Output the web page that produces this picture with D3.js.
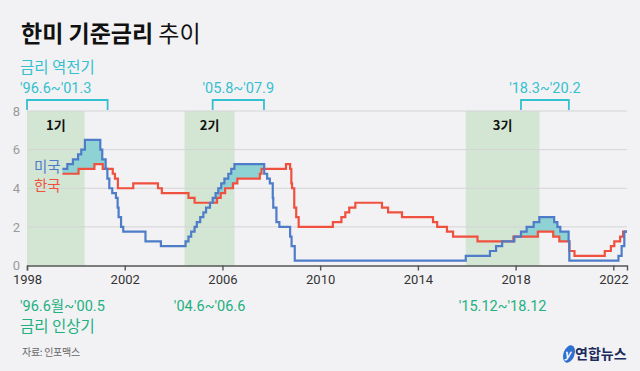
<!DOCTYPE html>
<html>
<head>
<meta charset="utf-8">
<script src="https://cdn.jsdelivr.net/npm/d3@7"></script>
<style>
  body { margin: 0; background: #f2f2f4; }
  svg { display: block; font-family: "Noto Sans CJK KR", "Noto Sans", sans-serif; }
</style>
</head>
<body>
<svg id="chart" width="640" height="371"></svg>
<script>
// 미국 기준금리 (상단) - 변경 시점(연도 소수), 금리
var usDates = [1999.45, 1999.65, 1999.88, 2000.09, 2000.22, 2000.37, 2001.0, 2001.08, 2001.22, 2001.29, 2001.37,
  2001.49, 2001.64, 2001.71, 2001.75, 2001.85, 2001.94, 2002.85, 2003.48, 2004.49, 2004.61, 2004.72, 2004.86,
  2004.95, 2005.09, 2005.22, 2005.33, 2005.49, 2005.6, 2005.72, 2005.83, 2005.95, 2006.08, 2006.24, 2006.36,
  2006.49, 2007.71, 2007.83, 2007.94, 2008.06, 2008.08, 2008.21, 2008.33, 2008.77, 2008.83, 2008.96, 2015.96,
  2016.95, 2017.2, 2017.45, 2017.95, 2018.22, 2018.45, 2018.74, 2018.97, 2019.58, 2019.71, 2019.83, 2020.17,
  2020.2, 2022.21, 2022.34, 2022.45]
var usRates = [5.0, 5.25, 5.5, 5.75, 6.0, 6.5, 6.0, 5.5, 5.0, 4.5, 4.0,
  3.75, 3.5, 3.0, 2.5, 2.0, 1.75, 1.25, 1.0, 1.25, 1.5, 1.75, 2.0,
  2.25, 2.5, 2.75, 3.0, 3.25, 3.5, 3.75, 4.0, 4.25, 4.5, 4.75, 5.0,
  5.25, 4.75, 4.5, 4.25, 3.5, 3.0, 2.25, 2.0, 1.5, 1.0, 0.25, 0.5,
  0.75, 1.0, 1.25, 1.5, 1.75, 2.0, 2.25, 2.5, 2.25, 2.0, 1.75, 1.25,
  0.25, 0.5, 1.0, 1.75]

// 한국 기준금리
var krDates = [1999.45, 2000.11, 2000.76, 2001.1, 2001.51, 2001.6, 2001.72, 2002.35, 2003.36, 2003.52, 2004.61,
  2004.86, 2005.78, 2005.93, 2006.11, 2006.43, 2006.61, 2007.53, 2007.6, 2008.6, 2008.77, 2008.82, 2008.85,
  2008.94, 2009.02, 2009.12, 2010.52, 2010.87, 2011.03, 2011.19, 2011.44, 2012.53, 2012.78, 2013.35, 2014.62,
  2014.79, 2015.19, 2015.44, 2016.44, 2017.91, 2018.91, 2019.54, 2019.79, 2020.2, 2020.41, 2021.65, 2021.9,
  2022.04, 2022.28, 2022.4]
var krRates = [4.75, 5.0, 5.25, 5.0, 4.75, 4.5, 4.0, 4.25, 4.0, 3.75, 3.5,
  3.25, 3.5, 3.75, 4.0, 4.25, 4.5, 4.75, 5.0, 5.25, 5.0, 4.25, 4.0,
  3.0, 2.5, 2.0, 2.25, 2.5, 2.75, 3.0, 3.25, 3.0, 2.75, 2.5, 2.25,
  2.0, 1.75, 1.5, 1.25, 1.5, 1.75, 1.5, 1.25, 0.75, 0.5, 0.75, 1.0,
  1.25, 1.5, 1.75]

var endYear = 2022.56

// 금리 인상기 (미국)
var hikeStart = [1998, 2004.45, 2015.96]
var hikeEnd = [2000.36, 2006.5, 2018.98]
var hikeNames = ["1기", "2기", "3기"]
var hikeLabels = ["'96.6월~'00.5", "'04.6~'06.6", "'15.12~'18.12"]

// 금리 역전기
var invStart = [1998, 2005.6, 2018.22]
var invEnd = [2001.3, 2007.7, 2020.18]
var invLabels = ["'96.6~'01.3", "'05.8~'07.9", "'18.3~'20.2"]

var xTicks = [1998, 2002, 2006, 2010, 2014, 2018, 2022]
var yTicks = [0, 2, 4, 6, 8]

var svg = d3.select("#chart")
var plotL = 27, plotR = 627, plotT = 111, plotB = 265.5

var x = d3.scaleLinear().domain([1998, endYear]).range([plotL, plotR])
var y = d3.scaleLinear().domain([0, 8]).range([plotB, plotT])

var blue = "#4f7cc8", red = "#f0513f", cyan = "#35c0cf", green = "#22b07f"

// title
var title = svg.append("text").attr("x", 21).attr("y", 42)
  .attr("font-size", 23).attr("fill", "#111")
title.append("tspan").attr("font-weight", 700).text("한미 기준금리")
title.append("tspan").attr("font-weight", 400).text(" 추이")

// green hike shading
for (var i = 0; i < hikeStart.length; i++) {
  svg.append("rect")
    .attr("x", x(hikeStart[i])).attr("y", plotT)
    .attr("width", x(hikeEnd[i]) - x(hikeStart[i])).attr("height", plotB - plotT)
    .attr("fill", "#d3e6d3")
  svg.append("text")
    .attr("x", (x(hikeStart[i]) + x(hikeEnd[i])) / 2).attr("y", 130)
    .attr("text-anchor", "middle").attr("font-size", 13).attr("font-weight", 700)
    .attr("fill", "#111").text(hikeNames[i])
}

// gridlines
svg.append("g").selectAll("line")
  .data(yTicks.filter(function(d) { return d > 0 }))
  .enter().append("line")
  .attr("x1", plotL).attr("x2", plotR)
  .attr("y1", function(d) { return y(d) }).attr("y2", function(d) { return y(d) })
  .attr("stroke", "#d4d4d6").attr("stroke-width", 1)

// y labels
var yAxis = svg.append("g").attr("transform", "translate(20,0)")
  .call(d3.axisLeft(y).tickValues(yTicks).tickSize(0).tickPadding(0))
yAxis.select(".domain").remove()
yAxis.selectAll("text").attr("font-size", 13).attr("fill", "#9a9a9a")
  .attr("font-family", "Roboto, 'Noto Sans', sans-serif")

// merged series for inversion fill
function stepVal(dates, rates, t) {
  var v = rates[0]
  for (var j = 0; j < dates.length; j++) { if (dates[j] <= t) v = rates[j] }
  return v
}
var allT = Array.from(new Set(usDates.concat(krDates).concat([endYear]))).sort(function(a, b) { return a - b })
var merged = allT.map(function(t) {
  return { t: t, us: stepVal(usDates, usRates, t), kr: stepVal(krDates, krRates, t) }
})

var area = d3.area().curve(d3.curveStepAfter)
  .x(function(d) { return x(d.t) })
  .y0(function(d) { return y(d.kr) })
  .y1(function(d) { return y(Math.max(d.us, d.kr)) })
svg.append("path").datum(merged).attr("d", area).attr("fill", "#8fd2d3")

var line = d3.line().curve(d3.curveStepAfter)
  .x(function(d) { return x(d[0]) }).y(function(d) { return y(d[1]) })

var krPts = krDates.map(function(d, i) { return [d, krRates[i]] })
krPts.push([endYear, krRates[krRates.length - 1]])
var usPts = usDates.map(function(d, i) { return [d, usRates[i]] })
usPts.push([endYear, usRates[usRates.length - 1]])

svg.append("path").datum(krPts).attr("d", line)
  .attr("fill", "none").attr("stroke", red).attr("stroke-width", 2.2)
svg.append("path").datum(usPts).attr("d", line)
  .attr("fill", "none").attr("stroke", blue).attr("stroke-width", 2.2)

// series labels
svg.append("text").attr("x", 34).attr("y", 172).attr("font-size", 14.5)
  .attr("fill", blue).text("미국")
svg.append("text").attr("x", 34).attr("y", 191).attr("font-size", 14.5)
  .attr("fill", red).text("한국")

// x axis
var xAxis = svg.append("g").attr("transform", "translate(0," + plotB + ")")
  .call(d3.axisBottom(x).tickValues(xTicks).tickFormat(d3.format("d")).tickSize(5).tickPadding(4))
xAxis.select(".domain").attr("stroke", "#555").attr("stroke-width", 1.4)
xAxis.selectAll(".tick line").attr("stroke", "#555").attr("stroke-width", 1.4)
xAxis.selectAll("text").attr("font-size", 13).attr("fill", "#333")
  .attr("font-family", "Roboto, 'Noto Sans', sans-serif")

// inversion brackets
svg.append("text").attr("x", 20).attr("y", 73).attr("font-size", 15.5)
  .attr("fill", cyan).text("금리 역전기")
for (var k = 0; k < invStart.length; k++) {
  var x0 = x(invStart[k]), x1 = x(invEnd[k])
  svg.append("path")
    .attr("d", "M" + x0 + ",110V100H" + x1 + "V110")
    .attr("fill", "none").attr("stroke", cyan).attr("stroke-width", 1.8)
  svg.append("text")
    .attr("x", k === 0 ? 20 : (x0 + x1) / 2).attr("y", 93)
    .attr("text-anchor", k === 0 ? "start" : "middle")
    .attr("font-size", 14.5).attr("fill", cyan)
    .attr("font-family", "Roboto, 'Noto Sans CJK KR', sans-serif")
    .text(invLabels[k])
}

// hike period labels
for (var m = 0; m < hikeStart.length; m++) {
  svg.append("text")
    .attr("x", m === 0 ? 20 : (x(hikeStart[m]) + x(hikeEnd[m])) / 2).attr("y", 311)
    .attr("text-anchor", m === 0 ? "start" : "middle")
    .attr("font-size", 14.5).attr("fill", green)
    .attr("font-family", "Roboto, 'Noto Sans CJK KR', sans-serif")
    .text(hikeLabels[m])
}
svg.append("text").attr("x", 20).attr("y", 332).attr("font-size", 15.5)
  .attr("fill", green).text("금리 인상기")

// source
svg.append("text").attr("x", 22).attr("y", 356).attr("font-size", 10)
  .attr("letter-spacing", -0.3).attr("fill", "#666").text("자료: 인포맥스")

// logo
var logo = svg.append("g").attr("transform", "translate(569,354)")
logo.append("ellipse").attr("cx", 0).attr("cy", 0).attr("rx", 5.5).attr("ry", 9)
  .attr("transform", "rotate(20)").attr("fill", "#2f6fd0")
logo.append("text").attr("x", -1.5).attr("y", 4).attr("font-size", 11).attr("font-style", "italic")
  .attr("font-weight", 700).attr("fill", "#fff").attr("text-anchor", "middle").text("y")
logo.append("text").attr("x", 6).attr("y", 5).attr("font-size", 14).attr("font-weight", 700)
  .attr("fill", "#1d2b5c").text("연합뉴스")
</script>
</body>
</html>
